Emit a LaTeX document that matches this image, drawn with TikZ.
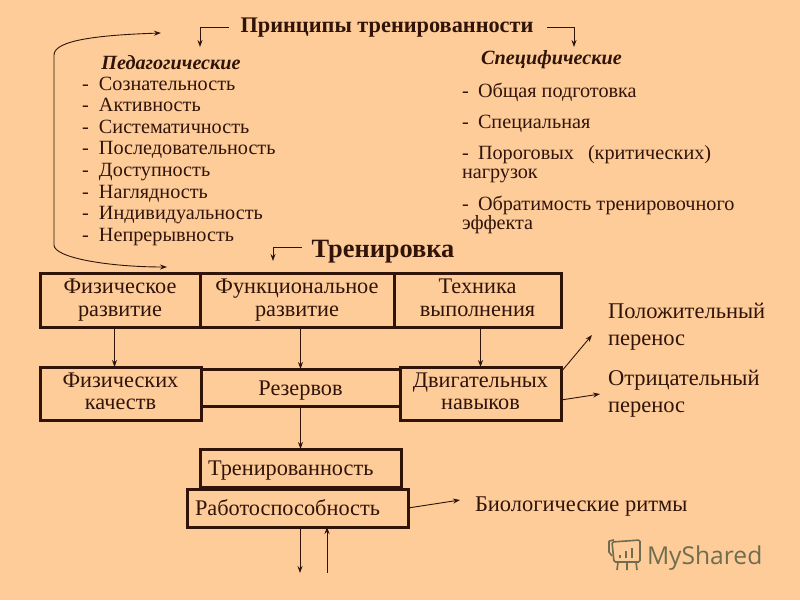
\documentclass[tikz,border=0pt]{standalone}
\usepackage{fontspec}
\setmainfont{Liberation Serif}
\newfontfamily\logofont{Open Sans}
\usetikzlibrary{arrows.meta}
\definecolor{paper}{RGB}{254,204,153}
\definecolor{ink}{RGB}{48,20,10}
\definecolor{logoink}{RGB}{112,108,80}
\newcommand{\pxfont}[1]{\fontsize{#1}{#1}\selectfont}

\begin{document}
\begin{tikzpicture}[x=1pt,y=-1pt,>={Stealth[length=7pt,width=5pt]},color=ink,text=ink,line width=0.9pt]
  \tikzstyle{every node}=[inner sep=0pt,outer sep=0pt]
  \tikzstyle{box}=[draw,line width=3pt,anchor=north west,align=center,font=\pxfont{22.3}]
  \tikzstyle{head}=[font=\pxfont{20.2}\bfseries\itshape]
  \tikzstyle{item}=[anchor=base west,font=\pxfont{20.2}]
  \tikzstyle{side}=[anchor=base west,font=\pxfont{22.5}]
  \fill[paper] (0,0) rectangle (800,600);
  \useasboundingbox (0,0) rectangle (800,600);
% headings
  \node[font=\pxfont{22.3}\bfseries] (principles) at (387,27.5) {Принципы тренированности};
  \node[font=\pxfont{26.4}\bfseries] (training) at (383,252) {Тренировка};
  \node[head] (pedagogic) at (171,63) {Педагогические};
  \node[head] (specific)  at (551.5,60) {Специфические};
% left list
  \foreach \ypos/\txt in {90/Сознательность,111/Активность,133/Систематичность,154/Последовательность,
                          176/Доступность,198/Наглядность,219/Индивидуальность,241/Непрерывность}{
    \node[item] (ped\ypos) at (82,\ypos) {\makebox[17pt][l]{-}\txt};
  }
% right list
  \node[item] (general)  at (462,97)  {\makebox[16pt][l]{-}Общая подготовка};
  \node[item] (special)  at (462,128) {\makebox[16pt][l]{-}Специальная};
  \node[item] (thresh)   at (462,159) {\makebox[16pt][l]{-}Пороговых\hspace{9pt} (критических)};
  \node[item] (thresh2)  at (462,178) {нагрузок};
  \node[item] (revers)   at (462,210) {\makebox[16pt][l]{-}Обратимость тренировочного};
  \node[item] (revers2)  at (462,229) {эффекта};
% boxes
  \node[box,minimum width=160pt,minimum height=54pt] (phys_dev) at (40,273)  {Физическое\\развитие};
  \node[box,minimum width=194pt,minimum height=54pt] (func_dev) at (200,273) {Функциональное\\развитие};
  \node[box,minimum width=167pt,minimum height=54pt] (tech_dev) at (394,273) {Техника\\выполнения\vphantom{р}};
  \node[box,minimum width=161pt,minimum height=53pt] (phys_q)   at (40,367)  {Физических\\качеств\vphantom{р}};
  \node[box,minimum width=199pt,minimum height=37pt,text height=21pt] (reserves) at (201,369) {Резервов};
  \node[box,minimum width=161pt,minimum height=53pt] (motor)    at (400,367) {Двигательных\\навыков\vphantom{р}};
  \node[box,minimum width=201pt,minimum height=38pt,text width=185pt,text height=20pt,align=left] (trained) at (200,449) {Тренированность};
  \node[box,minimum width=221pt,minimum height=38pt,text width=205pt,align=left] (working) at (187,489) {Работоспособность};
% outside labels
  \node[side] (positive)  at (608,318) {Положительный};
  \node[side] (positive2) at (608,345) {перенос};
  \node[side] (negative)  at (608,385) {Отрицательный};
  \node[side] (negative2) at (608,412) {перенос};
  \node[side] (rhythms)   at (475,511) {Биологические ритмы};
% free ends
  \coordinate (ped_in)   at (200,47);
  \coordinate (spec_in)  at (574,47);
  \coordinate (train_in) at (273,261);
  \coordinate (pos_in)   at (592,335);
  \coordinate (neg_in)   at (600,394);
  \coordinate (bio_in)   at (460,500);
  \coordinate (work_out) at (300,573);
  \coordinate (work_in)  at (327,573);
  \coordinate (loop_top) at (161,33);
  \coordinate (loop_bot) at (167,267);
% connectors
  \draw[->] ([xshift=-12pt]principles.west) -| (ped_in);
  \draw[->] ([xshift=14pt]principles.east) -| (spec_in);
  \draw[->] ([xshift=-10pt,yshift=5pt]training.west) -| (train_in);
  \draw[<->] (loop_top) .. controls (100,35) and (54,40) .. (54,55) -- (54,245)
             .. controls (54,258) and (110,267) .. (loop_bot);
  \draw[->] ([xshift=-6pt]phys_q.north |- phys_dev.south) -- ([xshift=-6pt]phys_q.north);
  \draw[->] (reserves.north |- func_dev.south) -- (reserves.north);
  \draw[->] (motor.north |- tech_dev.south) -- (motor.north);
  \draw[->] (reserves.south) -- (trained.north);
  \draw[->] (working.south -| work_out) -- (work_out);
  \draw[->] (work_in) -- (working.south -| work_in);
  \draw[->] ([yshift=-5pt]motor.north east) -- (pos_in);
  \draw[->] ([yshift=20pt]motor.south east) -- (neg_in);
  \draw[->] (working.east) -- (bio_in);
% logo
  \node[font=\logofont\pxfont{24.6},text=logoink,anchor=base west] (logo) at (647,564) {MyShared};
  \begin{scope}[draw=logoink,line width=1.6pt]
    \draw[rounded corners=1.5pt] (612,542) -- (640,540) -- (640,562) -- (614,562) -- cycle;
    \draw (609,541) -- (614,540) (609,541) -- (609,552) -- (612,556);
    \draw (618,562) -- (617,570) (627,562) -- (627,570) (636,562) -- (637,570);
    \draw[line width=2.4pt] (620,558) -- (620,555) (626,558) -- (626,551) (632,558) -- (632,548);
  \end{scope}
\end{tikzpicture}
\end{document}
